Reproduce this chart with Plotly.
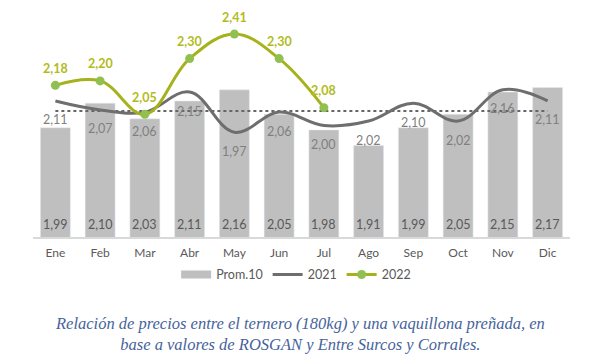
import plotly.graph_objects as go

meses = ["Ene", "Feb", "Mar", "Abr", "May", "Jun", "Jul", "Ago", "Sep", "Oct", "Nov", "Dic"]
prom10 = [1.99, 2.10, 2.03, 2.11, 2.16, 2.05, 1.98, 1.91, 1.99, 2.05, 2.15, 2.17]
v2021 = [2.11, 2.07, 2.06, 2.15, 1.97, 2.06, 2.00, 2.02, 2.10, 2.02, 2.16, 2.11]
meses2022 = ["Ene", "Feb", "Mar", "Abr", "May", "Jun", "Jul"]
v2022 = [2.18, 2.20, 2.05, 2.30, 2.41, 2.30, 2.08]
referencia = 2.065
base_y = 1.5

FONT = "Lato"
fmt = lambda v: f"{v:.2f}".replace(".", ",")

fig = go.Figure()
# legend swatch for the bars (wide rectangle, as in the reference)
fig.add_trace(go.Scatter(
    x=[meses[0]], y=[None], name="Prom.10", mode="lines",
    line=dict(color="#bfbfbf", width=8), legendrank=1, hoverinfo="skip",
))
fig.add_trace(go.Bar(
    x=meses, y=prom10, name="Prom.10", marker_color="#bfbfbf", width=0.67,
    showlegend=False,
))
fig.add_trace(go.Scatter(
    x=meses, y=[referencia] * len(meses), mode="lines", showlegend=False,
    line=dict(color="#666666", width=2.2, dash="dot"), hoverinfo="skip",
))
fig.add_trace(go.Scatter(
    x=meses, y=v2021, name="2021", mode="lines", legendrank=2,
    line=dict(color="#6e6e6e", width=3, shape="spline", smoothing=1.1),
))
fig.add_trace(go.Scatter(
    x=meses2022, y=v2022, name="2022", mode="lines+markers", legendrank=3,
    line=dict(color="#a5b21b", width=3, shape="spline", smoothing=1.1),
    marker=dict(color="#92c050", size=9),
))

for m, v in zip(meses, prom10):
    fig.add_annotation(x=m, y=base_y, text=fmt(v), showarrow=False, yshift=13,
                       font=dict(color="#595959", size=12.5, family=FONT))
for m, v in zip(meses, v2021):
    fig.add_annotation(x=m, y=v, text=fmt(v), showarrow=False, yshift=-19,
                       font=dict(color="#7f7f7f", size=12.5, family=FONT))
for m, v in zip(meses2022, v2022):
    fig.add_annotation(x=m, y=v, text="<b>" + fmt(v) + "</b>", showarrow=False, yshift=17,
                       font=dict(color="#b2bb1c", size=12.5, family=FONT))

fig.add_annotation(
    xref="paper", yref="paper", x=0.497, y=-0.335, yanchor="top", showarrow=False,
    text="<i>Relación de precios entre el ternero (180kg) y una vaquillona preñada, en<br>base a valores de ROSGAN y Entre Surcos y Corrales.</i>",
    font=dict(family="Liberation Serif", size=16.5, color="#46639b"), align="center",
)

fig.update_layout(
    width=592, height=356, margin=dict(l=25, r=30, t=6, b=127),
    plot_bgcolor="white", paper_bgcolor="white", separators=",.",
    font=dict(family=FONT, color="#595959", size=12),
    showlegend=True,
    legend=dict(orientation="h", x=0.49, xanchor="center", y=-0.17, yanchor="middle",
                font=dict(size=12.5, color="#595959", family=FONT), traceorder="normal"),
    xaxis=dict(type="category", categoryorder="array", categoryarray=meses,
               showline=True, linecolor="#d9d9d9", linewidth=1.5, ticks="", showgrid=False,
               tickfont=dict(size=12, color="#595959"), ticklabelstandoff=4,
               range=[-0.5, 11.5]),
    yaxis=dict(range=[base_y, 2.5], visible=False, showgrid=False),
)

fig.write_html("out.html")
